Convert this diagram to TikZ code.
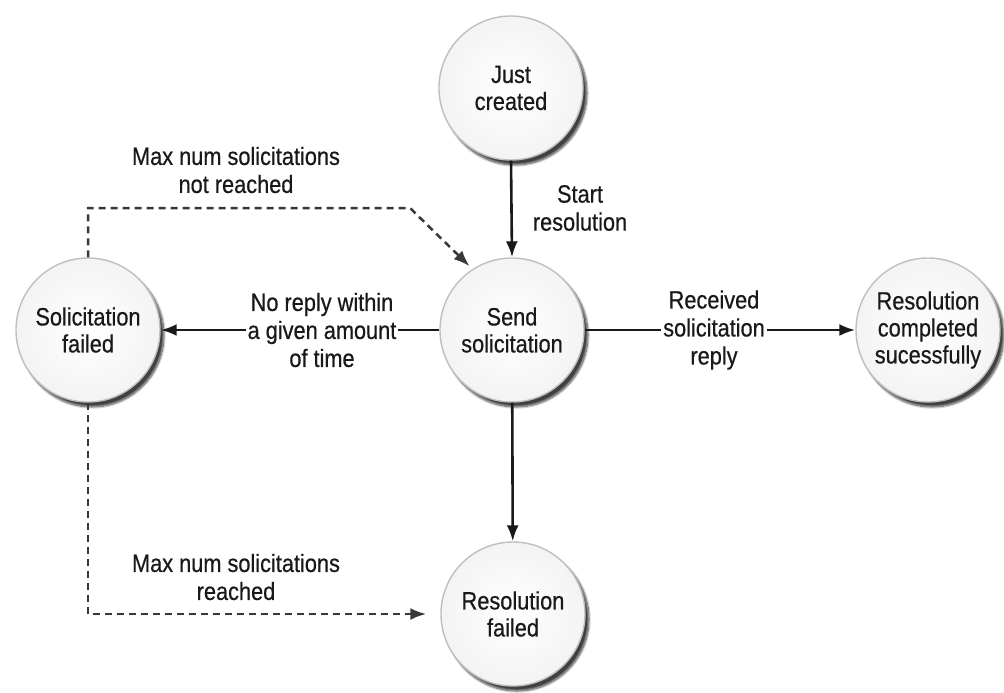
\documentclass[tikz,border=0pt]{standalone}
\usepackage{fontspec}
\setmainfont{Liberation Sans}[FakeStretch=0.87,FakeBold=0.5]
\usetikzlibrary{arrows.meta,shadows.blur}
\begin{document}
\begin{tikzpicture}[x=1pt,y=-1pt,
  state/.style={circle, minimum size=144pt, inner sep=0pt, draw=gray!50, line width=1.4pt,
    inner color=white, outer color=gray!9,
    blur shadow={shadow xshift=4pt, shadow yshift=-5pt, shadow blur steps=10, shadow opacity=75},
    align=center, font=\fontsize{25}{27}\selectfont, text=black!90},
  lbl/.style={align=center, font=\fontsize{25}{28}\selectfont, text=black!90, inner sep=2pt},
  flow/.style={line width=2.6pt, draw=black!90, -{Latex[length=16pt,width=12pt]}},
  back/.style={line width=2.5pt, draw=black!78, dash pattern=on 7pt off 5pt, -{Latex[length=16pt,width=12pt]}}]
\useasboundingbox (0,0) rectangle (1004,693);

\node[state] (jc) at (511,88) {Just\\created};
\node[state] (ss) at (512,330) {Send\\solicitation};
\node[state] (sf) at (88,330) {Solicitation\\failed};
\node[state] (rc) at (928,330) {Resolution\\completed\\sucessfully};
\node[state] (rf) at (513,614) {Resolution\\failed};

\coordinate (c1) at (410,208);

\draw[flow] (jc.south) -- (ss.north);
\draw[flow] (ss) -- (sf);
\draw[flow] (ss) -- (rc);
\draw[flow] (ss) -- (rf);
\draw[back, shorten >=4pt] (sf.north) |- (c1) -- (ss.123);
\draw[back, shorten >=14pt] (sf.south) |- (rf.west);

\node[lbl] (sr) at (580,208) {Start\\resolution};
\node[lbl, fill=white] (nr) at (322,330) {No reply within\\a given amount\\of time};
\node[lbl, fill=white] (rs) at (714,330) {Received\\solicitation\\reply};
\node[lbl] (mt) at (236,170) {Max num solicitations\\not reached};
\node[lbl] (mb) at (236,577) {Max num solicitations\\reached};
\end{tikzpicture}
\end{document}
